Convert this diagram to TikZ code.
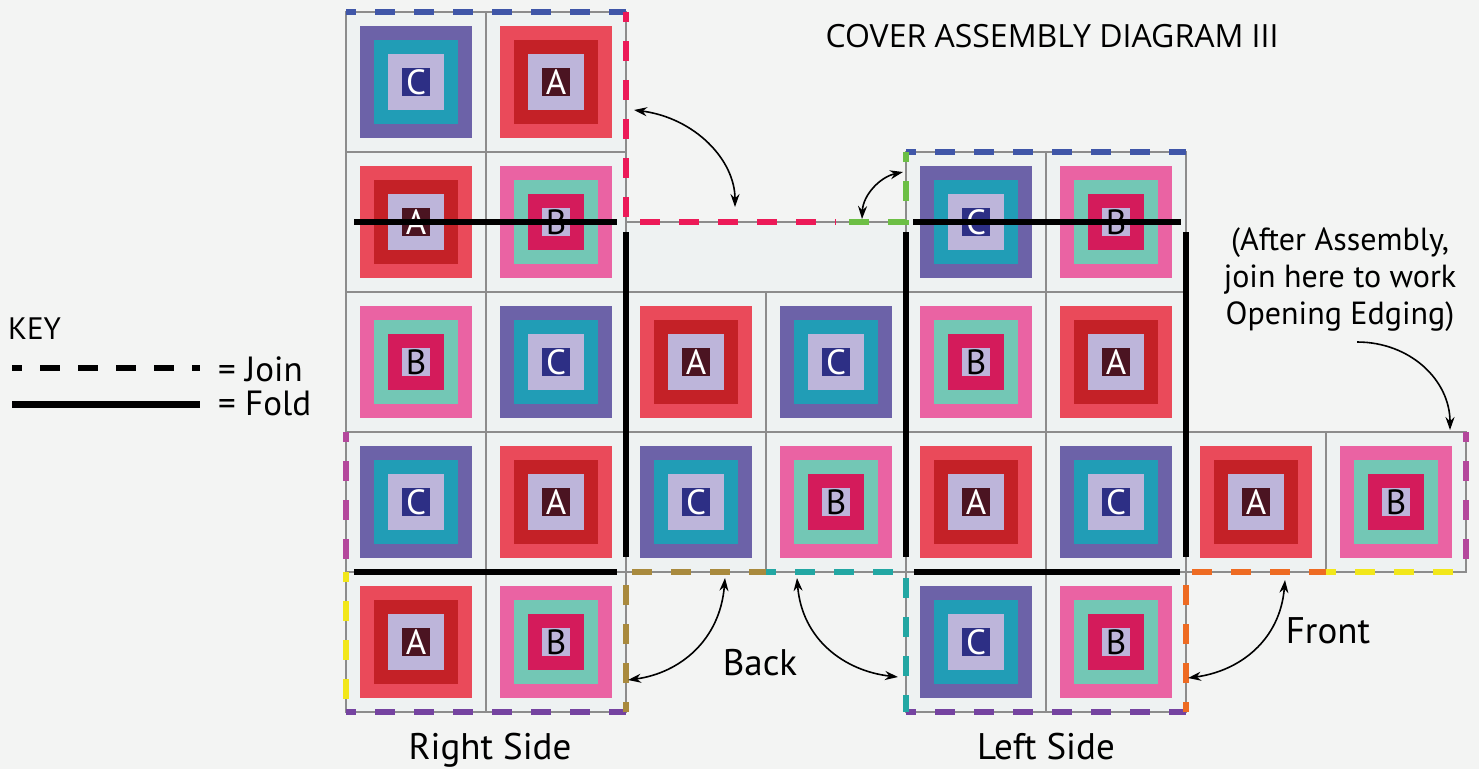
\documentclass[tikz,border=0pt]{standalone}
\usepackage{fontspec}
\setmainfont{PT Sans}
\newfontfamily\titlefont{Open Sans}
\usetikzlibrary{arrows.meta}
\definecolor{bgc}{HTML}{F3F4F3}
\definecolor{cellc}{HTML}{EEF2F2}
\definecolor{gridc}{HTML}{8C8C8C}
\definecolor{A1}{HTML}{EA4A5A}
\definecolor{A2}{HTML}{C42127}
\definecolor{A3}{HTML}{BDB5DA}
\definecolor{A4}{HTML}{4B1421}
\definecolor{B1}{HTML}{EA63A3}
\definecolor{B2}{HTML}{73C7B5}
\definecolor{B3}{HTML}{D41B5B}
\definecolor{B4}{HTML}{BDB5DA}
\definecolor{C1}{HTML}{6C62A8}
\definecolor{C2}{HTML}{219DB6}
\definecolor{C3}{HTML}{BDB5DA}
\definecolor{C4}{HTML}{2D2F85}
\definecolor{jblue}{HTML}{3F56A8}
\definecolor{jpink}{HTML}{EC1A58}
\definecolor{jgreen}{HTML}{6CBF45}
\definecolor{jmag}{HTML}{B4489C}
\definecolor{jyel}{HTML}{F2E71A}
\definecolor{jpur}{HTML}{7543A0}
\definecolor{jgold}{HTML}{A98A3D}
\definecolor{jteal}{HTML}{22A7A3}
\definecolor{jora}{HTML}{EE6B22}
\newcommand\qblock[3]{%
  \pgfmathsetmacro\X{346+140*#1}\pgfmathsetmacro\Y{12+140*#2}%
  \draw[cellst] (\X,\Y) rectangle ++(140,140);
  \fill[#31] (\X+14,\Y+14) rectangle ++(112,112);
  \fill[#32] (\X+28,\Y+28) rectangle ++(84,84);
  \fill[#33] (\X+42,\Y+42) rectangle ++(56,56);
  \node[box#3] (L#1-#2) at (\X+70,\Y+70) {#3};
}
\begin{document}
\begin{tikzpicture}[x=1pt,y=-1pt,
  cellst/.style={fill=cellc,draw=gridc,line width=1.2pt},
  letbox/.style={minimum size=28pt,inner sep=0pt,font=\fontsize{35}{35}\selectfont},
  boxA/.style={letbox,fill=A4,text=white},
  boxB/.style={letbox,fill=B4,text=black},
  boxC/.style={letbox,fill=C4,text=white},
  joinln/.style={line width=6pt,dash pattern=on 20pt off 19pt,dash phase=10pt},
  foldln/.style={line width=6pt,black},
  arr/.style={line width=1.6pt,black},
  lbl/.style={font=\fontsize{37}{42}\selectfont,inner sep=0pt},
  stk/.tip={Stealth[length=13pt,width=9pt]}
]
\useasboundingbox (0,0) rectangle (1479,769);
\fill[bgc] (0,0) rectangle (1479,769);
% flap strip
\draw[cellst] (626,222) rectangle (906,292);
% blocks
\foreach \c/\r in {1/0,0/1,2/2,5/2,1/3,4/3,6/3,0/4} {\qblock{\c}{\r}{A}}
\foreach \c/\r in {1/1,5/1,0/2,4/2,3/3,7/3,1/4,5/4} {\qblock{\c}{\r}{B}}
\foreach \c/\r in {0/0,4/1,1/2,3/2,0/3,2/3,5/3,4/4} {\qblock{\c}{\r}{C}}
% fold lines
\draw[foldln] (354,222) -- (617,222);
\draw[foldln] (913,222) -- (1181,222);
\draw[foldln] (626,232) -- (626,557);
\draw[foldln] (906,232) -- (906,557);
\draw[foldln] (1186,232) -- (1186,557);
\draw[foldln] (354,572) -- (617,572);
\draw[foldln] (914,572) -- (1180,572);
% join lines
\draw[joinln,jblue] (346,12) -- (626,12);
\draw[joinln,jblue] (906,152) -- (1186,152);
\draw[joinln,jpink] (626,12) -- (626,222) -- (836,222);
\draw[joinln,jgreen] (906,152) -- (906,222) -- (836,222);
\draw[joinln,jmag] (346,432) -- (346,572);
\draw[joinln,jmag] (1466,432) -- (1466,572);
\draw[joinln,jyel] (346,572) -- (346,712);
\draw[joinln,jyel] (1326,572) -- (1466,572);
\draw[joinln,jpur] (346,712) -- (626,712);
\draw[joinln,jpur] (906,712) -- (1186,712);
\draw[joinln,jgold] (626,712) -- (626,572) -- (766,572);
\draw[joinln,jteal] (766,572) -- (906,572) -- (906,712);
\draw[joinln,jora] (1186,712) -- (1186,572) -- (1326,572);
% arrows
\coordinate (a1s) at (634,110); \coordinate (a1e) at (735,207);
\draw[arr,stk-stk] (a1s) .. controls (695,118) and (735,160) .. (a1e);
\coordinate (a2s) at (862,219); \coordinate (a2e) at (903,172);
\draw[arr,stk-stk] (a2s) .. controls (863,195) and (880,177) .. (a2e);
\coordinate (b1s) at (725,578); \coordinate (b1e) at (628,680);
\draw[arr,stk-stk] (b1s) .. controls (720,640) and (680,673) .. (b1e);
\coordinate (b2s) at (797,578); \coordinate (b2e) at (898,677);
\draw[arr,stk-stk] (b2s) .. controls (802,640) and (845,671) .. (b2e);
\coordinate (f1s) at (1285,580); \coordinate (f1e) at (1188,678);
\draw[arr,stk-stk] (f1s) .. controls (1280,640) and (1240,671) .. (f1e);
\coordinate (o1s) at (1357,342); \coordinate (o1e) at (1450,430);
\draw[arr,-stk] (o1s) .. controls (1410,342) and (1450,380) .. (o1e);
% texts
\node[inner sep=0pt,anchor=base,font=\titlefont\fontsize{32}{36}\selectfont] (title) at (1052,47) {COVER ASSEMBLY DIAGRAM III};
\node[lbl,anchor=base] (back) at (760,675) {Back};
\node[lbl,anchor=base] (front) at (1328,643) {Front};
\node[lbl,anchor=base] (rside) at (490,759) {Right Side};
\node[lbl,anchor=base] (lside) at (1046,759) {Left Side};
\node[inner sep=0pt,anchor=north,align=center,font=\fontsize{32}{37}\selectfont] (after) at (1340,228) {(After Assembly,\\join here to work\\Opening Edging)};
% key
\node[inner sep=0pt,anchor=base west,font=\fontsize{31}{36}\selectfont] (key) at (8,339) {KEY};
\coordinate (k1a) at (12,368); \coordinate (k1b) at (200,368);
\draw[line width=5.5pt,dash pattern=on 20pt off 18pt,dash phase=10pt] (k1a) -- (k1b);
\coordinate (k2a) at (12,404); \coordinate (k2b) at (200,404);
\draw[line width=7pt] (k2a) -- (k2b);
\node[inner sep=0pt,anchor=base west,font=\fontsize{35}{38}\selectfont] (kj) at (218,381) {= Join};
\node[inner sep=0pt,anchor=base west,font=\fontsize{35}{38}\selectfont] (kf) at (218,415) {= Fold};
\end{tikzpicture}
\end{document}
